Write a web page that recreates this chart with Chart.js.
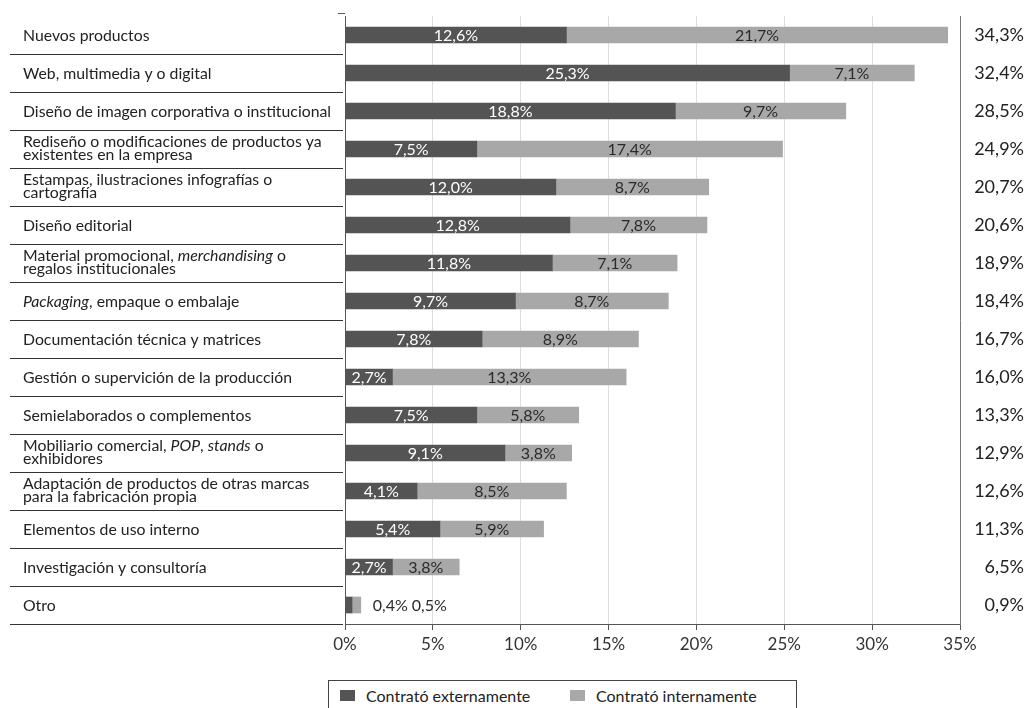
<!DOCTYPE html>
<html lang="es">
<head>
  <meta charset="UTF-8">
  <title>Tipo de diseño contratado</title>
  <script src="https://cdn.jsdelivr.net/npm/chart.js"></script>
  <style>
    * { box-sizing: border-box; margin:0; padding:0; }
    body { background:#fff; width:1028px; height:708px; overflow:hidden; position:relative; font-family:Lato, sans-serif; }
    #wrap { position:absolute; left:0; top:0; width:1028px; height:668px; }
    #leyenda {
      position:absolute; left:328px; top:680px; width:469px; height:40px;
      border:1px solid #444; color:#222; font-size:16px;
    }
    .item { position:absolute; top:5px; display:flex; align-items:center; }
    .caja { width:15px; height:11px; margin-right:11px; }
  </style>
</head>
<body>

<div id="wrap"><canvas id="grafica"></canvas></div>

<div id="leyenda">
  <div class="item" style="left:11px"><span class="caja" style="background:#545454"></span>Contrató externamente</div>
  <div class="item" style="left:241px"><span class="caja" style="background:#a8a8a8"></span>Contrató internamente</div>
</div>

<script>
// categorías (cada una con sus líneas; *texto* va en cursiva)
const categorias = [
  ['Nuevos productos'],
  ['Web, multimedia y o digital'],
  ['Diseño de imagen corporativa o institucional'],
  ['Rediseño o modificaciones de productos ya', 'existentes en la empresa'],
  ['Estampas, ilustraciones infografías o', 'cartografía'],
  ['Diseño editorial'],
  ['Material promocional, *merchandising* o', 'regalos institucionales'],
  ['*Packaging*, empaque o embalaje'],
  ['Documentación técnica y matrices'],
  ['Gestión o supervición de la producción'],
  ['Semielaborados o complementos'],
  ['Mobiliario comercial, *POP*, *stands* o', 'exhibidores'],
  ['Adaptación de productos de otras marcas', 'para la fabricación propia'],
  ['Elementos de uso interno'],
  ['Investigación y consultoría'],
  ['Otro']
];
const externo = [12.6, 25.3, 18.8, 7.5, 12.0, 12.8, 11.8, 9.7, 7.8, 2.7, 7.5, 9.1, 4.1, 5.4, 2.7, 0.4];
const interno = [21.7, 7.1, 9.7, 17.4, 8.7, 7.8, 7.1, 8.7, 8.9, 13.3, 5.8, 3.8, 8.5, 5.9, 3.8, 0.5];
const totales = [34.3, 32.4, 28.5, 24.9, 20.7, 20.6, 18.9, 18.4, 16.7, 16.0, 13.3, 12.9, 12.6, 11.3, 6.5, 0.9];

const fmt = v => v.toFixed(1).replace('.', ',') + '%';
const fuente = 'Lato, "Open Sans", sans-serif';

// etiquetas de la izquierda con separadores
const etiquetasIzq = {
  id: 'etiquetasIzq',
  afterDraw(chart) {
    const ctx = chart.ctx, y = chart.scales.y;
    const alto = y.getPixelForValue(1) - y.getPixelForValue(0);
    ctx.save();
    ctx.fillStyle = '#222';
    ctx.strokeStyle = '#333';
    ctx.lineWidth = 1;
    ctx.textBaseline = 'middle';
    categorias.forEach((lineas, i) => {
      const yc = y.getPixelForValue(i);
      lineas.forEach((linea, k) => {
        const yl = lineas.length === 1 ? yc + 1 : yc - 7 + k * 13;
        let x = 23;
        linea.split('*').forEach((trozo, j) => {
          ctx.font = (j % 2 ? 'italic ' : '') + '15.8px ' + fuente;
          ctx.fillText(trozo, x, yl);
          x += ctx.measureText(trozo).width;
        });
      });
      const ys = Math.round(yc + alto / 2) + 0.5;
      ctx.beginPath();
      ctx.moveTo(10, ys);
      ctx.lineTo(343, ys);
      ctx.stroke();
    });
    // pequeña marca arriba del eje
    const top = chart.chartArea.top - 2.5;
    ctx.strokeStyle = '#555';
    ctx.beginPath();
    ctx.moveTo(338, top);
    ctx.lineTo(chart.chartArea.left, top);
    ctx.stroke();
    ctx.restore();
  }
};

// valores dentro de las barras
const etiquetasBarras = {
  id: 'etiquetasBarras',
  afterDatasetsDraw(chart) {
    const ctx = chart.ctx;
    const m0 = chart.getDatasetMeta(0), m1 = chart.getDatasetMeta(1);
    ctx.save();
    ctx.font = '16px ' + fuente;
    ctx.textBaseline = 'middle';
    m0.data.forEach((b0, i) => {
      const b1 = m1.data[i];
      const t0 = fmt(externo[i]), t1 = fmt(interno[i]);
      const w0 = ctx.measureText(t0).width, w1 = ctx.measureText(t1).width;
      const a0 = b0.x - b0.base, a1 = b1.x - b1.base;
      if (a0 > w0 * 0.8 && a1 > w1 * 0.8) {
        ctx.textAlign = 'center';
        ctx.fillStyle = '#fff';
        ctx.fillText(t0, (b0.x + b0.base) / 2, b0.y + 1);
        ctx.fillStyle = '#2a2a2a';
        ctx.fillText(t1, (b1.x + b1.base) / 2, b1.y + 1);
      } else {
        ctx.textAlign = 'left';
        ctx.fillStyle = '#2a2a2a';
        let x = b1.x + 12;
        ctx.fillText(t0, x, b0.y + 1);
        x += w0 + 4;
        ctx.fillText(t1, x, b1.y + 1);
      }
    });
    ctx.restore();
  }
};

new Chart(document.getElementById('grafica'), {
  type: 'bar',
  data: {
    labels: categorias.map(l => l.join(' ').replace(/\*/g, '')),
    datasets: [
      { label: 'Contrató externamente', data: externo, backgroundColor: '#545454', barThickness: 16 },
      { label: 'Contrató internamente', data: interno, backgroundColor: '#a8a8a8', barThickness: 16 }
    ]
  },
  options: {
    indexAxis: 'y',
    responsive: true,
    maintainAspectRatio: false,
    animation: false,
    layout: { padding: { top: 16, right: 4, left: 0, bottom: 0 } },
    plugins: { legend: { display: false }, tooltip: { enabled: false } },
    scales: {
      x: {
        stacked: true, min: 0, max: 35,
        afterFit: s => { s.height = 44; },
        ticks: { stepSize: 5, callback: v => v + '%', color: '#333', padding: 4, font: { family: fuente, size: 17 } },
        grid: { color: '#dcdcdc', tickColor: '#555', tickLength: 6 },
        border: { color: '#555' }
      },
      y: {
        stacked: true,
        afterFit: s => { s.width = 345; },
        ticks: { display: false },
        grid: { display: false, drawTicks: false },
        border: { color: '#555' }
      },
      y2: {
        type: 'category',
        labels: totales.map(fmt),
        position: 'right',
        offset: true,
        afterFit: s => { s.width = 64; },
        ticks: { crossAlign: 'far', color: '#222', font: { family: fuente, size: 18 } },
        grid: { display: false, drawTicks: false },
        border: { color: '#777' }
      }
    }
  },
  plugins: [etiquetasIzq, etiquetasBarras]
});
</script>
</body>
</html>
